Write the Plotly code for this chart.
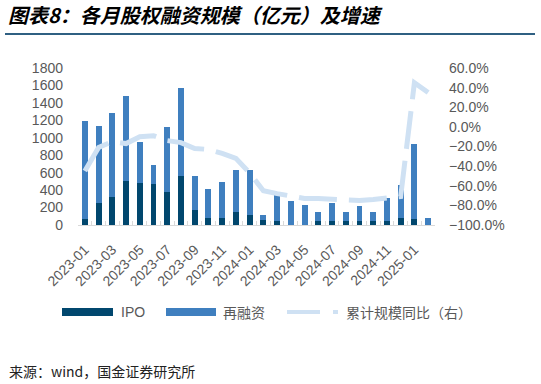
import plotly.graph_objects as go

months = ["2023-01","2023-02","2023-03","2023-04","2023-05","2023-06","2023-07","2023-08",
          "2023-09","2023-10","2023-11","2023-12","2024-01","2024-02","2024-03","2024-04",
          "2024-05","2024-06","2024-07","2024-08","2024-09","2024-10","2024-11","2024-12",
          "2025-01","2025-02"]
ipo = [70,258,323,500,485,465,381,565,169,81,81,154,115,55,50,3,3,45,45,45,45,45,45,81,65,3]
total = [1190,1138,1288,1481,946,685,1119,1569,562,408,496,635,635,120,377,273,235,150,254,150,219,150,304,462,931,81]
refin = [t - i for t, i in zip(total, ipo)]
yoy = [-45,-21,-15,-17,-10,-9,-14,-16,-22,-23,-27,-32,-47,-65,-68,-70,-73,-73,-74,-75,-75,-74,-73,-71,45,35]
tick_text = [m if k % 2 == 0 else "" for k, m in enumerate(months)]

C_IPO = "#01476e"
C_REF = "#3f7fbf"
C_LINE = "#cfe1f3"
GRAY = "#595959"
FONT = "Liberation Sans, Arial, Noto Sans CJK SC"

fig = go.Figure()
fig.add_trace(go.Bar(x=months, y=ipo, name="IPO", marker_color=C_IPO, marker_line_width=0))
fig.add_trace(go.Bar(x=months, y=refin, name="再融资", marker_color=C_REF, marker_line_width=0))
fig.add_trace(go.Scatter(x=months, y=yoy, name="累计规模同比（右）", yaxis="y2", mode="lines",
                         line=dict(color=C_LINE, width=5, dash="38px,12px")))

# plot area in pixels: left 78, right 435, top 68, bottom 225
L, R, T, B = 78, 435, 68, 225
def px(x):
    return (x - L) / (R - L)
def py(y):
    return (B - y) / (B - T)

shapes = [
    dict(type="line", xref="paper", yref="paper", x0=px(5), x1=px(535), y0=py(34), y1=py(34),
         line=dict(color="#2f6082", width=2)),
    dict(type="rect", xref="paper", yref="paper", x0=px(62), x1=px(113), y0=py(316), y1=py(308),
         fillcolor=C_IPO, line_width=0),
    dict(type="rect", xref="paper", yref="paper", x0=px(166), x1=px(216), y0=py(316), y1=py(308),
         fillcolor=C_REF, line_width=0),
    dict(type="line", xref="paper", yref="paper", x0=px(287), x1=px(338), y0=py(312), y1=py(312),
         line=dict(color=C_LINE, width=4, dash="33px,13px")),
]
annotations = [
    dict(text="IPO", xref="paper", yref="paper", x=px(119), y=py(312), xanchor="left", yanchor="middle",
         showarrow=False, font=dict(size=14, color=GRAY, family=FONT)),
    dict(text="再融资", xref="paper", yref="paper", x=px(221), y=py(312), xanchor="left", yanchor="middle",
         showarrow=False, font=dict(size=14, color=GRAY, family="Noto Sans CJK SC")),
    dict(text="累计规模同比（右）", xref="paper", yref="paper", x=px(344), y=py(312), xanchor="left",
         yanchor="middle", showarrow=False, font=dict(size=14, color=GRAY, family="Noto Sans CJK SC")),
    dict(text="来源：wind，国金证券研究所", xref="paper", yref="paper", x=px(7), y=py(371), xanchor="left",
         yanchor="middle", showarrow=False, font=dict(size=14, color="#222222", family="Noto Sans CJK SC")),
]

fig.update_layout(
    width=541, height=384,
    margin=dict(l=L, r=541 - R, t=T, b=384 - B),
    paper_bgcolor="white", plot_bgcolor="white",
    barmode="stack", bargap=0.57,
    showlegend=False,
    title=dict(text="<b><i>图表8：各月股权融资规模（亿元）及增速</i></b>", x=8 / 541, y=1 - 16 / 384,
               xref="container", yref="container", xanchor="left", yanchor="middle",
               font=dict(size=20, color="black", family="Noto Sans CJK SC")),
    xaxis=dict(type="category", tickmode="array", tickvals=months, ticktext=tick_text,
               tickangle=-45, tickfont=dict(size=14, color=GRAY, family=FONT), ticklabelstandoff=10,
               showline=True, linecolor="#d9d9d9", linewidth=1,
               ticks="inside", tickson="boundaries", ticklen=4, tickcolor="#d9d9d9",
               showgrid=False, zeroline=False),
    yaxis=dict(range=[0, 1800], dtick=200, tick0=0, showgrid=False, zeroline=False, showline=False,
               tickfont=dict(size=14, color=GRAY, family=FONT), ticklabelstandoff=14),
    yaxis2=dict(range=[-100, 60], dtick=20, tick0=-100, overlaying="y", side="right",
                showgrid=False, zeroline=False, showline=False, ticksuffix="%", tickformat=".1f",
                tickfont=dict(size=14, color=GRAY, family=FONT), ticklabelstandoff=13),
    shapes=shapes, annotations=annotations,
)

fig.write_html("out.html", config={"displayModeBar": False},
               post_script="document.body.style.margin='0';")
